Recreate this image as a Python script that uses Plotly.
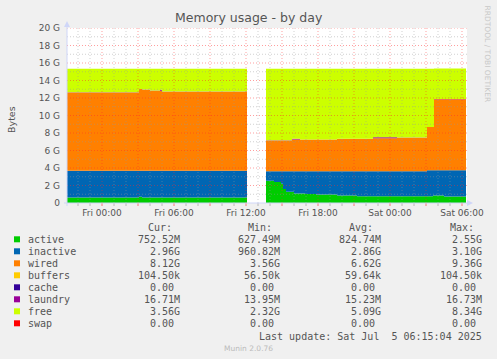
import plotly.graph_objects as go
import datetime as dt

GiB = 1024 ** 3

# ---------------- data (GiB, piecewise constant from each timestamp) ----------------
series_names = ["active", "inactive", "wired", "buffers", "cache", "laundry", "free", "swap"]
series_colors = ["#00CC00", "#0066B3", "#FF8000", "#FFCC00", "#330099", "#990099", "#CCFF00", "#FF0000"]

left_times = ["2025-07-03 21:05", "2025-07-04 03:05", "2025-07-04 03:20", "2025-07-04 04:00",
              "2025-07-04 04:50", "2025-07-04 05:00", "2025-07-04 12:05"]
left_active = [0.64, 0.72, 0.64, 0.64, 0.64, 0.64, 0.64]
left_inactive = [3.05, 2.97, 3.05, 3.05, 3.05, 3.05, 3.05]
left_wired = [8.95, 9.33, 9.26, 9.14, 9.14, 9.03, 9.03]
left_buffers = [0.0001] * 7
left_cache = [0.0] * 7
left_laundry = [0.015, 0.015, 0.015, 0.015, 0.10, 0.015, 0.015]
left_free = [2.685, 2.305, 2.375, 2.495, 2.41, 2.605, 2.605]
left_swap = [0.0] * 7

right_times = ["2025-07-04 13:40", "2025-07-04 14:20", "2025-07-04 14:55", "2025-07-04 15:05",
               "2025-07-04 15:20", "2025-07-04 15:50", "2025-07-04 16:00", "2025-07-04 16:30",
               "2025-07-04 16:55", "2025-07-04 17:50", "2025-07-04 19:35", "2025-07-04 21:15",
               "2025-07-04 22:35", "2025-07-05 00:35", "2025-07-05 03:05", "2025-07-05 03:35",
               "2025-07-05 03:40", "2025-07-05 04:30", "2025-07-05 06:20"]
right_active = [2.55, 2.40, 2.20, 1.60, 1.29, 1.29, 1.10, 1.10, 1.03, 0.98, 0.87, 0.76,
                0.76, 0.76, 0.76, 0.87, 0.87, 0.75, 0.75]
right_inactive = [1.07, 1.22, 1.42, 2.02, 2.33, 2.33, 2.52, 2.52, 2.59, 2.64, 2.75, 2.86,
                  2.86, 2.86, 2.97, 2.86, 2.86, 2.98, 2.98]
right_wired = [3.53, 3.53, 3.53, 3.53, 3.53, 3.63, 3.63, 3.63, 3.63, 3.63, 3.72, 3.72,
               3.79, 3.85, 4.95, 4.95, 8.13, 8.13, 8.13]
right_buffers = [0.0001] * 19
right_cache = [0.0] * 19
right_laundry = [0.015, 0.015, 0.015, 0.015, 0.015, 0.10, 0.10, 0.015, 0.015, 0.015, 0.015, 0.015,
                 0.10, 0.015, 0.015, 0.015, 0.015, 0.015, 0.015]
right_free = [8.175, 8.175, 8.175, 8.175, 8.175, 7.99, 7.99, 8.075, 8.075, 8.075, 7.985, 7.985,
              7.83, 7.855, 6.645, 6.645, 3.5, 3.5, 3.5]
right_swap = [0.0] * 19

# legend table
cur_vals = ["752.52M", "2.96G", "8.12G", "104.50k", "0.00", "16.71M", "3.56G", "0.00"]
min_vals = ["627.49M", "960.82M", "3.56G", "56.50k", "0.00", "13.95M", "2.32G", "0.00"]
avg_vals = ["824.74M", "2.86G", "6.62G", "59.64k", "0.00", "15.23M", "5.09G", "0.00"]
max_vals = ["2.55G", "3.10G", "9.36G", "104.50k", "0.00", "16.73M", "8.34G", "0.00"]

x_tick_vals = ["2025-07-04 00:00", "2025-07-04 06:00", "2025-07-04 12:00",
               "2025-07-04 18:00", "2025-07-05 00:00", "2025-07-05 06:00"]
x_tick_text = ["Fri 00:00", "Fri 06:00", "Fri 12:00", "Fri 18:00", "Sat 00:00", "Sat 06:00"]
y_tick_gib = [0, 2, 4, 6, 8, 10, 12, 14, 16, 18, 20]
y_tick_text = ["0"] + [f"{v} G" for v in y_tick_gib[1:]]

x_range = ["2025-07-03 21:05", "2025-07-05 06:25"]

# ---------------- layout geometry ----------------
W, H = 497, 359
ML, MR, MT, MB = 67, 30, 28, 156
PW = W - ML - MR
PH = H - MT - MB


def pxx(xp):
    return (xp - ML) / PW


def pxy(yp):
    return (H - MB - yp) / PH


TXT = "#555555"
FONT = "DejaVu Sans"
MONO = "DejaVu Sans Mono"

fig = go.Figure()

left_data = [left_active, left_inactive, left_wired, left_buffers, left_cache, left_laundry, left_free, left_swap]
right_data = [right_active, right_inactive, right_wired, right_buffers, right_cache, right_laundry, right_free, right_swap]

for grp, times, data in (("L", left_times, left_data), ("R", right_times, right_data)):
    for name, col, vals in zip(series_names, series_colors, data):
        fig.add_trace(go.Scatter(
            x=times, y=[v * GiB for v in vals], name=name, stackgroup=grp,
            mode="lines", line=dict(width=0, shape="hv", color=col),
            fillcolor=col, showlegend=False, hoverinfo="skip"))

shapes = []
# grid (drawn above the areas, like rrdtool)
t0 = dt.datetime(2025, 7, 3, 22, 0)
t_end = dt.datetime(2025, 7, 5, 6, 25)
t = t0
while t <= t_end:
    major = (t.hour % 3 == 0)
    col = "rgba(255,40,40,0.45)" if major else "rgba(150,150,150,0.45)"
    ts = t.strftime("%Y-%m-%d %H:%M")
    shapes.append(dict(type="line", xref="x", yref="paper", x0=ts, x1=ts, y0=0, y1=1, layer="above",
                       line=dict(color=col, width=1, dash="1px,2px")))
    shapes.append(dict(type="line", xref="x", yref="paper", x0=ts, x1=ts, ysizemode="pixel", yanchor=0,
                       y0=-3, y1=0, layer="above",
                       line=dict(color="rgba(255,40,40,0.6)" if major else "rgba(150,150,150,0.6)", width=1)))
    t += dt.timedelta(hours=1)
for g in range(1, 21):
    major = (g % 2 == 0)
    col = "rgba(255,40,40,0.45)" if major else "rgba(150,150,150,0.45)"
    shapes.append(dict(type="line", xref="paper", yref="y", x0=0, x1=1, y0=g * GiB, y1=g * GiB,
                       layer="above", line=dict(color=col, width=1, dash="1px,2px")))

AX = "#CFD6F8"
# axes lines + arrows
shapes.append(dict(type="line", xref="paper", yref="paper", x0=pxx(67), x1=pxx(67), y0=pxy(206), y1=pxy(25),
                   line=dict(color=AX, width=1), layer="above"))
shapes.append(dict(type="line", xref="paper", yref="paper", x0=pxx(64), x1=pxx(468), y0=pxy(203), y1=pxy(203),
                   line=dict(color=AX, width=1), layer="above"))
shapes.append(dict(type="path", xref="paper", yref="paper",
                   path=f"M {pxx(64)} {pxy(27)} L {pxx(70)} {pxy(27)} L {pxx(67)} {pxy(21)} Z",
                   fillcolor=AX, line=dict(width=0), layer="above"))
shapes.append(dict(type="path", xref="paper", yref="paper",
                   path=f"M {pxx(467)} {pxy(200)} L {pxx(467)} {pxy(206)} L {pxx(473)} {pxy(203)} Z",
                   fillcolor=AX, line=dict(width=0), layer="above"))

annotations = []
annotations.append(dict(text="Memory usage - by day", xref="paper", yref="paper", x=pxx(248.5), y=pxy(18),
                        showarrow=False, xanchor="center", yanchor="middle",
                        font=dict(family=FONT, size=12.5, color=TXT)))
annotations.append(dict(text="Bytes", xref="paper", yref="paper", x=pxx(11), y=pxy(119), textangle=-90,
                        showarrow=False, xanchor="center", yanchor="middle",
                        font=dict(family=FONT, size=9.5, color=TXT)))
annotations.append(dict(text="RRDTOOL / TOBI OETIKER", xref="paper", yref="paper", x=pxx(487), y=pxy(53.5),
                        textangle=90, showarrow=False, xanchor="center", yanchor="middle",
                        font=dict(family=FONT, size=7.5, color="#C8C8C8")))

row_y0 = 239.3
col_right = [181.5, 282.2, 382.8, 483.5]
hdr_left = [145.5, 246.2, 346.9, 447.5]
for h, xl in zip(["Cur:", "Min:", "Avg:", "Max:"], hdr_left):
    annotations.append(dict(text=h, xref="paper", yref="paper", x=pxx(xl), y=pxy(227.3), showarrow=False,
                            xanchor="left", yanchor="middle", font=dict(family=MONO, size=10, color=TXT)))


def fmt(s):
    return s if s[-1].isalpha() else s + "\u00a0"


for i, (name, col) in enumerate(zip(series_names, series_colors)):
    yc = row_y0 + 12 * i
    shapes.append(dict(type="rect", xref="paper", yref="paper", x0=pxx(14), x1=pxx(20), y0=pxy(yc + 3),
                       y1=pxy(yc - 3), fillcolor=col, line=dict(width=0)))
    annotations.append(dict(text=name, xref="paper", yref="paper", x=pxx(26), y=pxy(yc), showarrow=False,
                            xanchor="left", yanchor="middle", font=dict(family=MONO, size=10, color=TXT)))
    for vals, xr in zip([cur_vals, min_vals, avg_vals, max_vals], col_right):
        annotations.append(dict(text=fmt(vals[i]), xref="paper", yref="paper", x=pxx(xr), y=pxy(yc),
                                showarrow=False, xanchor="right", yanchor="middle",
                                font=dict(family=MONO, size=10, color=TXT)))

annotations.append(dict(text="Last update: Sat Jul\u00a0\u00a05 06:15:04 2025", xref="paper", yref="paper",
                        x=pxx(483.5), y=pxy(336), showarrow=False, xanchor="right", yanchor="middle",
                        font=dict(family=MONO, size=10, color=TXT)))
annotations.append(dict(text="Munin 2.0.76", xref="paper", yref="paper", x=pxx(248.5), y=pxy(348),
                        showarrow=False, xanchor="center", yanchor="middle",
                        font=dict(family=FONT, size=7.5, color="#BBBBBB")))

fig.update_layout(
    width=W, height=H, margin=dict(l=ML, r=MR, t=MT, b=MB, pad=0),
    paper_bgcolor="#F0F0F0", plot_bgcolor="#FFFFFF",
    showlegend=False, shapes=shapes, annotations=annotations,
    xaxis=dict(type="date", range=x_range, tickvals=x_tick_vals, ticktext=x_tick_text,
               showgrid=False, zeroline=False, showline=False, ticks="",
               tickfont=dict(family=FONT, size=9, color=TXT), ticklabelstandoff=3, fixedrange=True),
    yaxis=dict(range=[0, 20 * GiB], tickvals=[v * GiB for v in y_tick_gib], ticktext=y_tick_text,
               showgrid=False, zeroline=False, showline=False, ticks="",
               tickfont=dict(family=FONT, size=9, color=TXT), ticklabelstandoff=6, fixedrange=True),
)

fig.write_html("out.html", config={"displayModeBar": False})
